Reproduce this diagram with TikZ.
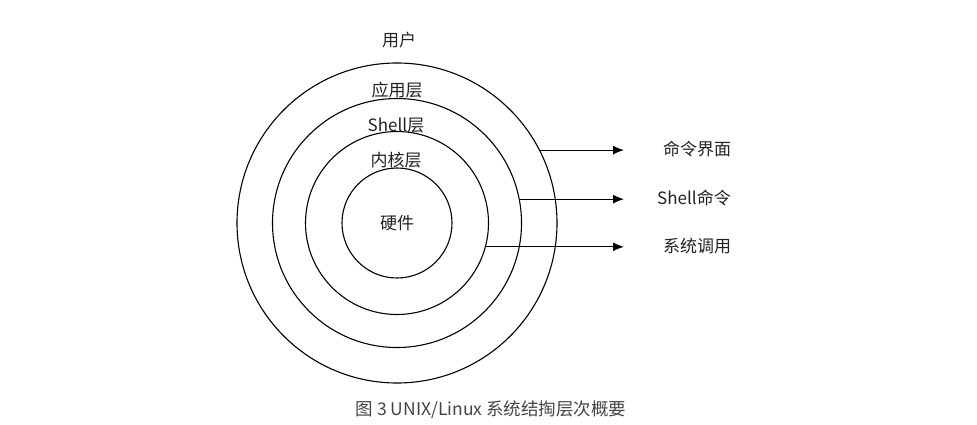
\documentclass[tikz,border=0pt]{standalone}
\usepackage{fontspec}
\usepackage{xcolor}
\newfontfamily\cjk{Noto Sans CJK SC}
\usepackage{tikz}
\usetikzlibrary{arrows.meta}
\definecolor{txtgray}{HTML}{222222}
\definecolor{capgray}{HTML}{444444}
\tikzset{
  ring/.style={draw,circle,inner sep=0pt,line width=1.1pt},
  lbl/.style={font=\cjk\fontsize{17}{19}\selectfont,text=txtgray},
  side/.style={lbl,anchor=center}
}

\begin{document}
\begin{tikzpicture}[>={Latex[length=11pt,width=9pt]},x=1pt,y=-1pt]
			\useasboundingbox (0,0) rectangle (977,425);
			% layers
			\node[ring,minimum size=320pt] (app) at (397,223) {};
			\node[ring,minimum size=249pt] (shl) at (397,223) {};
			\node[ring,minimum size=183pt] (ker) at (397,223) {};
			\node[ring,minimum size=110pt,lbl] (hw) at (397,223) {硬件};
			\node[lbl] (user) at (399,40) {用户};
			\node[lbl] (lapp) at (397,90) {应用层};
			\node[lbl] (lshl) at (396,125) {Shell层};
			\node[lbl] (lker) at (396,160) {内核层};
			%接口
			\coordinate (tip) at (624,0);
			\draw[->,line width=1.1pt] (app.27.5) -- (app.27.5 -| tip);
			\draw[->,line width=1.1pt] (shl.11.6) -- (shl.11.6 -| tip);
			\draw[->,line width=1.1pt] (ker.-15.2) -- (ker.-15.2 -| tip);
			\node[side] (cmdui) at (697,149) {命令界面};
			\node[side] (cmdsh) at (694,198) {Shell命令};
			\node[side] (sysc) at (697,246) {系统调用};
			\node[font=\cjk\fontsize{17.5}{19}\selectfont,text=capgray] (cap) at (491,410) {图 3 UNIX/Linux 系统结掏层次概要};
		\end{tikzpicture}
\end{document}
